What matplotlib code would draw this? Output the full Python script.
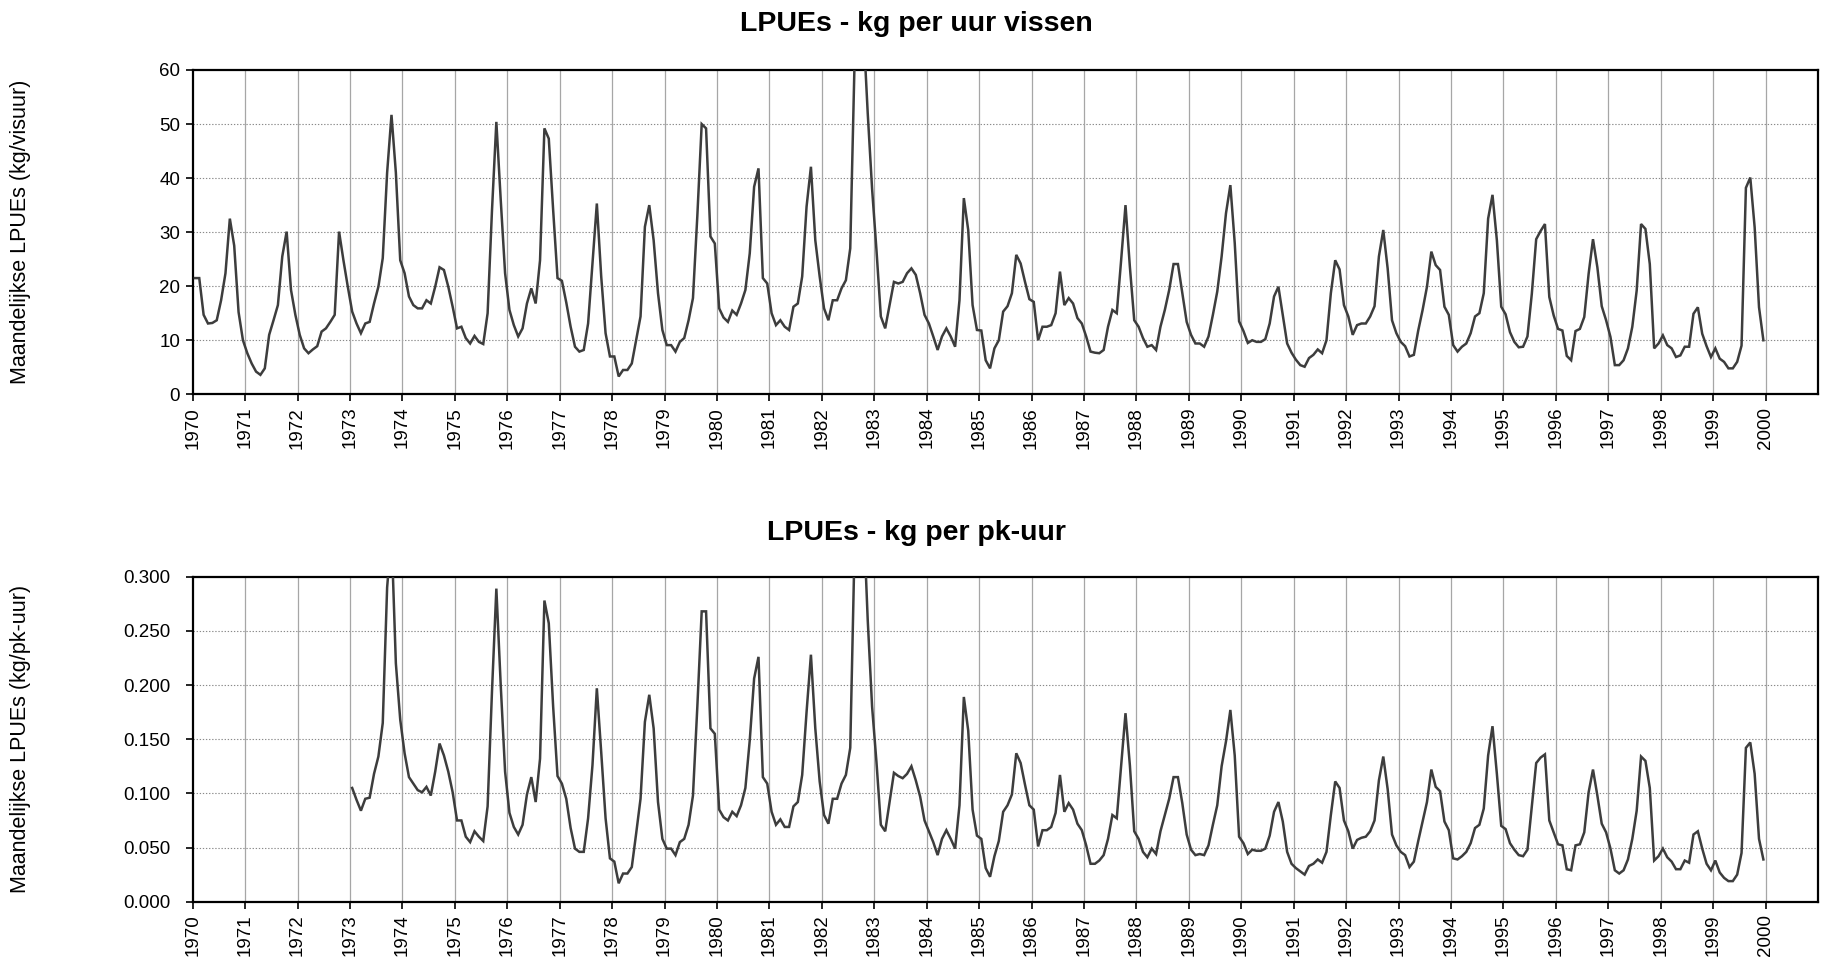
import matplotlib
matplotlib.use("Agg")
import matplotlib.pyplot as plt
import numpy as np

plt.rcParams['font.family'] = ['Liberation Sans', 'DejaVu Sans']

# Monthly LPUE, kg per fishing hour, Jan 1970 - Dec 1999 (one row per year)
start_visuur = 1970
lpue_visuur = [
    21.5, 21.5, 14.7, 13.1, 13.2, 13.7, 17.4, 22.4, 32.5, 27.5, 15.2, 10.0,   # 1970
    7.6, 5.7, 4.2, 3.6, 4.8, 11.0, 13.7, 16.5, 25.5, 30.1, 19.3, 14.7,        # 1971
    11.0, 8.5, 7.6, 8.3, 8.9, 11.6, 12.2, 13.4, 14.7, 30.1, 24.8, 19.9,       # 1972
    15.3, 13.1, 11.3, 13.1, 13.4, 16.8, 19.9, 25.2, 41.0, 51.7, 41.0, 24.8,   # 1973
    22.4, 18.1, 16.5, 15.9, 15.9, 17.4, 16.8, 19.9, 23.5, 23.0, 19.9, 16.2,   # 1974
    12.2, 12.5, 10.4, 9.4, 10.8, 9.7, 9.3, 15.0, 34.0, 50.4, 36.0, 22.4,      # 1975
    15.6, 12.8, 10.7, 12.2, 16.8, 19.6, 16.8, 24.8, 49.2, 47.3, 34.1, 21.5,   # 1976
    21.0, 17.0, 12.5, 8.8, 7.9, 8.2, 13.1, 24.2, 35.3, 21.8, 11.3, 7.0,       # 1977
    7.0, 3.3, 4.5, 4.5, 5.7, 10.0, 14.4, 31.0, 35.0, 28.5, 18.7, 11.9,        # 1978
    9.1, 9.1, 7.9, 9.7, 10.4, 13.7, 17.8, 33.0, 50.0, 49.2, 29.2, 27.9,       # 1979
    15.9, 14.2, 13.4, 15.5, 14.7, 16.8, 19.3, 26.1, 38.4, 41.8, 21.5, 20.5,   # 1980
    15.0, 12.8, 13.7, 12.5, 11.9, 16.2, 16.8, 21.8, 34.7, 42.1, 28.5, 21.8,   # 1981
    15.9, 13.7, 17.4, 17.4, 19.6, 21.1, 27.0, 62.0, 75.0, 68.0, 52.0, 38.0,   # 1982
    26.7, 14.4, 12.2, 16.5, 20.8, 20.5, 20.8, 22.4, 23.3, 22.1, 18.7, 14.7,   # 1983
    13.1, 10.7, 8.2, 10.7, 12.2, 10.7, 8.8, 17.4, 36.3, 30.4, 16.5, 11.9,     # 1984
    11.8, 6.3, 4.8, 8.5, 10.0, 15.3, 16.3, 18.7, 25.8, 24.2, 20.8, 17.6,      # 1985
    17.1, 10.0, 12.5, 12.5, 12.8, 15.0, 22.7, 16.5, 17.8, 16.8, 14.1, 13.1,   # 1986
    10.7, 7.9, 7.7, 7.6, 8.2, 12.5, 15.6, 15.0, 24.8, 35.0, 23.6, 13.7,       # 1987
    12.5, 10.4, 8.8, 9.1, 8.2, 12.5, 15.6, 19.3, 24.1, 24.1, 18.7, 13.4,      # 1988
    11.0, 9.4, 9.4, 8.8, 10.7, 14.7, 19.0, 25.5, 33.5, 38.7, 28.0, 13.5,      # 1989
    11.7, 9.5, 10.0, 9.7, 9.7, 10.2, 13.1, 18.1, 19.9, 14.7, 9.4, 7.7,        # 1990
    6.4, 5.4, 5.1, 6.7, 7.3, 8.3, 7.6, 10.0, 18.7, 24.8, 23.1, 16.5,          # 1991
    14.4, 11.0, 12.8, 13.1, 13.1, 14.4, 16.3, 25.5, 30.4, 23.3, 13.7, 11.3,   # 1992
    9.7, 8.9, 7.0, 7.3, 11.8, 15.6, 19.9, 26.4, 23.9, 23.0, 16.2, 14.7,       # 1993
    9.1, 7.9, 8.8, 9.4, 11.3, 14.4, 15.0, 18.7, 32.5, 36.9, 28.5, 16.2,       # 1994
    14.8, 11.5, 9.7, 8.7, 8.8, 10.7, 18.6, 28.7, 30.2, 31.5, 18.0, 14.6,      # 1995
    12.1, 11.8, 7.1, 6.3, 11.7, 12.1, 14.3, 22.3, 28.7, 23.5, 16.3, 13.7,     # 1996
    10.6, 5.4, 5.4, 6.3, 8.5, 12.5, 19.2, 31.5, 30.6, 24.1, 8.5, 9.4,         # 1997
    10.9, 9.1, 8.5, 6.9, 7.2, 8.8, 8.8, 14.9, 16.1, 11.2, 8.9, 6.9,           # 1998
    8.5, 6.6, 6.0, 4.8, 4.8, 6.0, 9.0, 38.2, 40.1, 30.9, 16.1, 10.0,          # 1999
]

# Monthly LPUE, kg per hp-hour, Jan 1973 - Dec 1999 (one row per year)
start_pkuur = 1973
lpue_pkuur = [
    0.105, 0.094, 0.084, 0.095, 0.096, 0.118, 0.134, 0.165, 0.290, 0.340, 0.220, 0.168,   # 1973
    0.137, 0.115, 0.109, 0.103, 0.101, 0.106, 0.098, 0.120, 0.146, 0.135, 0.120, 0.101,   # 1974
    0.075, 0.075, 0.060, 0.055, 0.065, 0.060, 0.056, 0.088, 0.194, 0.289, 0.200, 0.120,   # 1975
    0.082, 0.069, 0.062, 0.071, 0.099, 0.115, 0.092, 0.132, 0.278, 0.257, 0.180, 0.116,   # 1976
    0.109, 0.095, 0.068, 0.049, 0.046, 0.046, 0.077, 0.126, 0.197, 0.138, 0.077, 0.040,   # 1977
    0.037, 0.017, 0.026, 0.026, 0.032, 0.063, 0.095, 0.166, 0.191, 0.160, 0.092, 0.058,   # 1978
    0.049, 0.049, 0.043, 0.055, 0.058, 0.071, 0.098, 0.180, 0.268, 0.268, 0.160, 0.155,   # 1979
    0.085, 0.078, 0.075, 0.083, 0.079, 0.089, 0.105, 0.149, 0.206, 0.226, 0.115, 0.109,   # 1980
    0.083, 0.071, 0.076, 0.069, 0.069, 0.088, 0.092, 0.117, 0.175, 0.228, 0.160, 0.111,   # 1981
    0.080, 0.072, 0.095, 0.095, 0.109, 0.117, 0.142, 0.330, 0.400, 0.360, 0.260, 0.180,   # 1982
    0.129, 0.071, 0.065, 0.092, 0.119, 0.116, 0.114, 0.118, 0.125, 0.112, 0.097, 0.075,   # 1983
    0.065, 0.055, 0.043, 0.058, 0.066, 0.058, 0.049, 0.089, 0.189, 0.158, 0.085, 0.061,   # 1984
    0.058, 0.031, 0.023, 0.042, 0.056, 0.083, 0.089, 0.099, 0.137, 0.128, 0.108, 0.089,   # 1985
    0.085, 0.051, 0.066, 0.066, 0.069, 0.082, 0.117, 0.083, 0.091, 0.085, 0.072, 0.066,   # 1986
    0.052, 0.035, 0.035, 0.038, 0.043, 0.058, 0.080, 0.077, 0.126, 0.174, 0.126, 0.065,   # 1987
    0.058, 0.046, 0.041, 0.049, 0.044, 0.065, 0.080, 0.095, 0.115, 0.115, 0.091, 0.062,   # 1988
    0.048, 0.043, 0.044, 0.043, 0.052, 0.071, 0.089, 0.125, 0.148, 0.177, 0.135, 0.060,   # 1989
    0.054, 0.044, 0.048, 0.047, 0.047, 0.049, 0.061, 0.083, 0.092, 0.074, 0.046, 0.035,   # 1990
    0.031, 0.028, 0.025, 0.033, 0.035, 0.039, 0.036, 0.046, 0.080, 0.111, 0.105, 0.075,   # 1991
    0.065, 0.049, 0.057, 0.059, 0.060, 0.065, 0.075, 0.112, 0.134, 0.104, 0.062, 0.052,   # 1992
    0.046, 0.043, 0.032, 0.037, 0.056, 0.074, 0.092, 0.122, 0.106, 0.102, 0.074, 0.066,   # 1993
    0.040, 0.039, 0.042, 0.046, 0.054, 0.068, 0.071, 0.086, 0.135, 0.162, 0.118, 0.070,   # 1994
    0.067, 0.054, 0.048, 0.043, 0.042, 0.048, 0.088, 0.128, 0.133, 0.136, 0.075, 0.064,   # 1995
    0.053, 0.052, 0.030, 0.029, 0.052, 0.053, 0.064, 0.101, 0.122, 0.098, 0.072, 0.064,   # 1996
    0.049, 0.029, 0.026, 0.029, 0.039, 0.058, 0.084, 0.134, 0.130, 0.105, 0.038, 0.042,   # 1997
    0.049, 0.041, 0.037, 0.030, 0.030, 0.038, 0.036, 0.062, 0.065, 0.049, 0.035, 0.029,   # 1998
    0.038, 0.027, 0.022, 0.019, 0.019, 0.025, 0.045, 0.142, 0.147, 0.118, 0.058, 0.039,   # 1999
]

year_ticks = list(range(1970, 2001))
titles = ["LPUEs - kg per uur vissen", "LPUEs - kg per pk-uur"]
ylabels = ["Maandelijkse LPUEs (kg/visuur)", "Maandelijkse LPUEs (kg/pk-uur)"]
yticks_visuur = [0, 10, 20, 30, 40, 50, 60]
yticks_pkuur = [0.0, 0.05, 0.10, 0.15, 0.20, 0.25, 0.30]

LINE = "#3d3d3d"
TICK_FS = 13.5

W, H = 1821, 961
fig = plt.figure(figsize=(W / 100, H / 100), dpi=100)

left = 192.7 / W
right = 1818 / W
ax1 = fig.add_axes([left, 1 - 394.3 / H, right - left, (394.3 - 70) / H])
ax2 = fig.add_axes([left, 1 - 901.7 / H, right - left, (901.7 - 576.7) / H])


def month_positions(start, n):
    return start + (np.arange(n) + 0.5) / 12.0


def style_axes(ax, yticks, fmt, ypad):
    ax.set_xlim(1970, 2001)
    ax.set_ylim(yticks[0], yticks[-1])
    ax.set_xticks(year_ticks)
    ax.set_xticklabels([str(y) for y in year_ticks], rotation=90,
                       fontsize=TICK_FS, va="top", ha="center")
    ax.set_yticks(yticks)
    ax.set_yticklabels([fmt.format(v) for v in yticks], fontsize=TICK_FS)
    ax.tick_params(axis="both", direction="out", length=5, width=1.2,
                   color="black")
    ax.tick_params(axis="x", pad=4)
    ax.tick_params(axis="y", pad=ypad)
    for spine in ax.spines.values():
        spine.set_linewidth(1.6)
        spine.set_color("black")
    for y in yticks[1:-1]:
        ax.axhline(y, color="#8a8a8a", lw=0.8, ls=(0, (1.2, 1.6)), zorder=1)
    for x in year_ticks[1:]:
        ax.axvline(x, color="#a6a6a6", lw=0.9, zorder=1)


x1 = month_positions(start_visuur, len(lpue_visuur))
ax1.plot(x1, lpue_visuur, color=LINE, lw=1.8, zorder=3, solid_joinstyle="miter")
style_axes(ax1, yticks_visuur, "{:.0f}", 4)

x2 = month_positions(start_pkuur, len(lpue_pkuur))
ax2.plot(x2, lpue_pkuur, color=LINE, lw=1.8, zorder=3, solid_joinstyle="miter")
style_axes(ax2, yticks_pkuur, "{:.3f}", 11)

fig.text(0.503, 1 - 24 / H, titles[0], ha="center", va="center",
         fontsize=20.5, fontweight="bold")
fig.text(0.503, 1 - 533 / H, titles[1], ha="center", va="center",
         fontsize=20.5, fontweight="bold")
fig.text(21 / W, 1 - 232 / H, ylabels[0], rotation=90, ha="center",
         va="center", fontsize=15.5)
fig.text(21 / W, 1 - 739 / H, ylabels[1], rotation=90, ha="center",
         va="center", fontsize=15.5)

fig.savefig("out.png", dpi=100, facecolor="white")
